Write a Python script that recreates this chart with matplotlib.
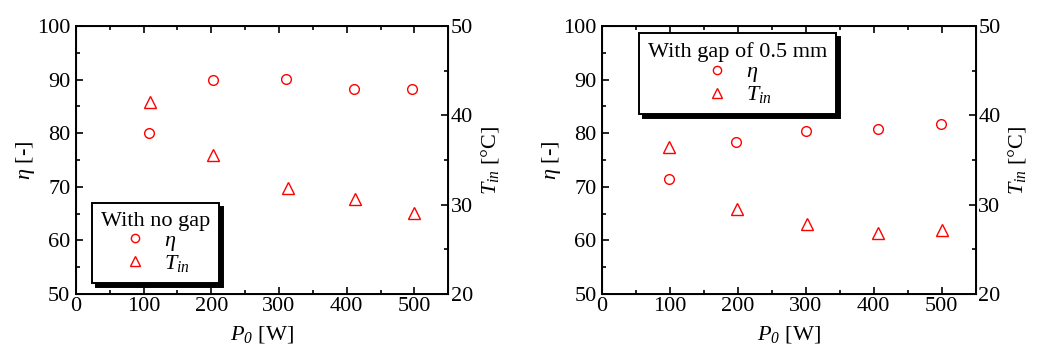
import matplotlib.pyplot as plt
from matplotlib.ticker import MultipleLocator

# data
p_nogap_eta = [108, 202, 310, 411, 497]
eta_nogap = [80.0, 90.0, 90.2, 88.2, 88.3]
p_nogap_t = [110, 203, 313, 413, 499]
tin_nogap = [41.5, 35.6, 31.9, 30.6, 29.1]

p_gap_eta = [98, 197, 300, 406, 499]
eta_gap = [71.4, 78.3, 80.5, 80.8, 81.8]
p_gap_t = [99, 199, 302, 407, 501]
tin_gap = [36.5, 29.5, 27.8, 26.8, 27.2]

titles = ['With no gap', 'With gap of 0.5 mm']

plt.rcParams['font.family'] = ['Liberation Serif', 'DejaVu Serif']
plt.rcParams['mathtext.fontset'] = 'custom'
plt.rcParams['mathtext.rm'] = 'Liberation Serif'
plt.rcParams['mathtext.it'] = 'Liberation Serif:italic'
plt.rcParams['mathtext.sf'] = 'Liberation Serif:italic'  # italic digits for P0
plt.rcParams['font.size'] = 16

fig = plt.figure(figsize=(10.4, 3.54), dpi=100)
ax1 = fig.add_axes([0.073, 0.1695, 0.358, 0.757])
ax2 = fig.add_axes([0.579, 0.1695, 0.359, 0.757])

panels = [(ax1, p_nogap_eta, eta_nogap, p_nogap_t, tin_nogap, titles[0], 'lower left', (0.043, 0.041)),
          (ax2, p_gap_eta, eta_gap, p_gap_t, tin_gap, titles[1], 'upper left', (0.099, 0.974))]

for ax, xe, ye, xt, yt, ttl, loc, anchor in panels:
    tw = ax.twinx()
    h1, = ax.plot(xe, ye, 'o', mfc='none', mec='red', ms=7, mew=1, ls='none')
    h2, = tw.plot(xt, yt, '^', mfc='none', mec='red', ms=8, mew=1, ls='none')
    ax.set_xlim(0, 550)
    ax.set_ylim(50, 100)
    tw.set_ylim(20, 50)
    ax.xaxis.set_major_locator(MultipleLocator(100))
    ax.xaxis.set_minor_locator(MultipleLocator(50))
    ax.yaxis.set_major_locator(MultipleLocator(10))
    ax.yaxis.set_minor_locator(MultipleLocator(5))
    tw.yaxis.set_major_locator(MultipleLocator(10))
    tw.yaxis.set_minor_locator(MultipleLocator(5))
    ax.tick_params(which='both', direction='in', top=True, right=False)
    ax.tick_params(axis='x', pad=2)
    ax.tick_params(axis='y', pad=4)
    ax.tick_params(which='major', length=5, width=1.2)
    ax.tick_params(which='minor', length=3, width=1.2)
    tw.tick_params(which='both', direction='in', pad=2)
    tw.tick_params(which='major', length=5, width=1.2)
    tw.tick_params(which='minor', length=3, width=1.2)
    for s in ax.spines.values():
        s.set_linewidth(1.4)
    ax.set_xlabel(r'$\mathsf{P_0}$ [W]', labelpad=6)
    ax.set_ylabel(r'$\eta$ [-]', labelpad=0)
    tw.set_ylabel(r'$T_{in}$ [°C]', labelpad=4)
    leg = tw.legend([h1, h2], [r'$\eta$', r'$T_{in}$'], title=ttl, loc=loc,
                    bbox_to_anchor=anchor, frameon=True, fancybox=False,
                    shadow={'ox': 3, 'oy': -3, 'color': 'black', 'alpha': 1},
                    edgecolor='black', framealpha=1, borderpad=0.4,
                    handlelength=1.2, handletextpad=0.7, labelspacing=0.0,
                    borderaxespad=0, markerscale=0.85,
                    title_fontsize=16, fontsize=16)
    leg.get_frame().set_linewidth(1.4)

fig.savefig('out.png', dpi=100)
